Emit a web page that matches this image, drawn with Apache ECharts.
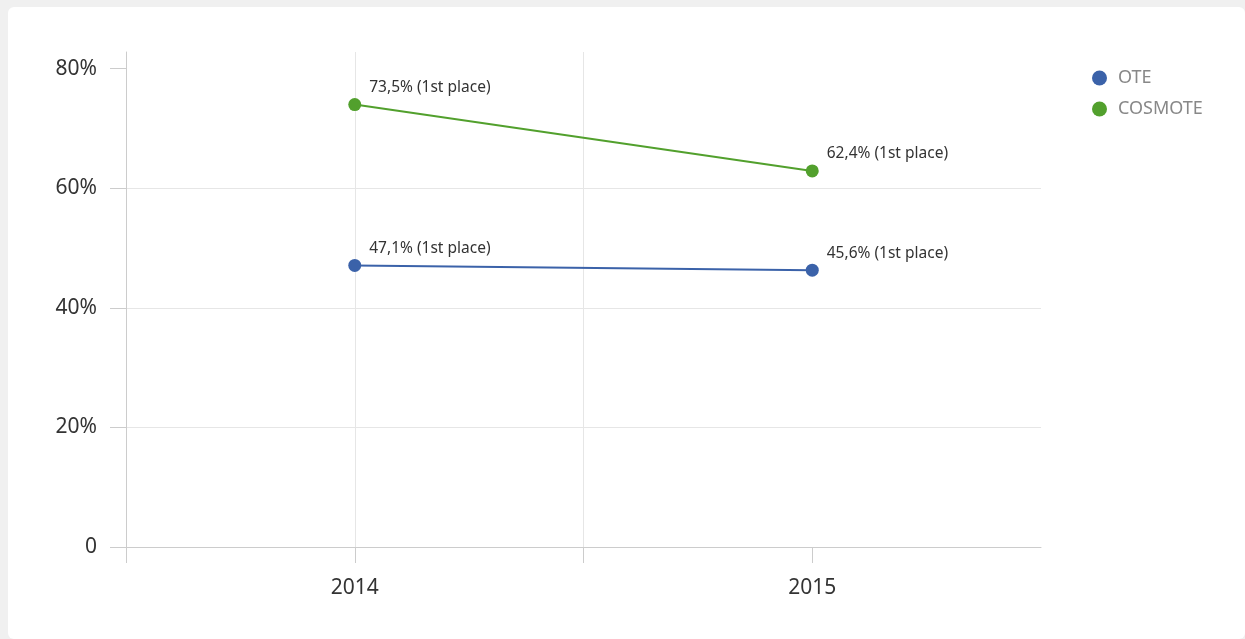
<!DOCTYPE html>
<html>
<head>
<meta charset="utf-8">
<script src="https://cdn.jsdelivr.net/npm/echarts@6/dist/echarts.min.js"></script>
<style>
  html, body { margin: 0; padding: 0; background: #f0f0f0; }
  #card { position: absolute; left: 8px; top: 7px; right: 0; bottom: 0; background: #fff; border-radius: 6px; }
  #chart { position: absolute; left: 0; top: 0; width: 1245px; height: 639px; }
</style>
</head>
<body>
<div id="card"></div>
<div id="chart"></div>
<script>
// 数据
const years = [2014, 2015];
const seriesNames = ["OTE", "COSMOTE"];
const oteValues = [47.1, 46.3];
const cosmoteValues = [74.0, 62.9];
const oteLabels = ["47,1% (1st place)", "45,6% (1st place)"];
const cosmoteLabels = ["73,5% (1st place)", "62,4% (1st place)"];
const yTicks = [0, 20, 40, 60, 80];
const xTicks = [2013.5, 2014, 2014.5, 2015];

const colors = ["#3b62a9", "#52a02d"];
const font = "Noto Sans";

const chart = echarts.init(document.getElementById("chart"));

function makeSeries(name, values, labels, color) {
  return {
    name: name,
    type: "line",
    data: years.map((y, i) => [y, values[i]]),
    symbol: "circle",
    symbolSize: 13,
    lineStyle: { color: color, width: 2 },
    itemStyle: { color: color },
    label: {
      show: true,
      position: "right",
      distance: 8,
      offset: [0, -17],
      color: "#333",
      fontFamily: font,
      fontSize: 15.5,
      formatter: (p) => labels[p.dataIndex],
    },
    emphasis: { disabled: true },
    animation: false,
  };
}

const option = {
  color: colors,
  textStyle: { fontFamily: font },
  legend: {
    orient: "vertical",
    left: 1087,
    top: 64,
    icon: "circle",
    itemWidth: 15,
    itemHeight: 15,
    itemGap: 13,
    data: seriesNames,
    textStyle: { color: "#888", fontSize: 18, fontFamily: font, padding: [0, 0, 0, 6] },
  },
  grid: { left: 126, right: 204, top: 52, bottom: 92, containLabel: false },
  xAxis: {
    type: "value",
    min: 2013.5,
    max: 2015.5,
    interval: 0.5,
    axisLine: { show: true, onZero: false, lineStyle: { color: "#ccc" } },
    axisTick: { show: true, length: 16, customValues: xTicks, lineStyle: { color: "#ccc" } },
    axisLabel: {
      customValues: years,
      formatter: (v) => String(v),
      margin: 31,
      fontSize: 21,
      color: "#333",
      fontFamily: font,
    },
    splitLine: { show: true, showMinLine: false, showMaxLine: false, lineStyle: { color: "#e6e6e6" } },
  },
  yAxis: {
    type: "value",
    min: 0,
    max: 82.8,
    interval: 20,
    axisLine: { show: true, lineStyle: { color: "#ccc" } },
    axisTick: { show: true, length: 16, customValues: yTicks, lineStyle: { color: "#ccc" } },
    axisLabel: {
      customValues: yTicks,
      formatter: (v) => (v === 0 ? "0" : v + "%"),
      margin: 29,
      fontSize: 21,
      color: "#333",
      fontFamily: font,
    },
    splitLine: { show: true, showMaxLine: false, lineStyle: { color: "#e6e6e6" } },
  },
  series: [
    makeSeries(seriesNames[0], oteValues, oteLabels, colors[0]),
    makeSeries(seriesNames[1], cosmoteValues, cosmoteLabels, colors[1]),
  ],
};

chart.setOption(option);
</script>
</body>
</html>
